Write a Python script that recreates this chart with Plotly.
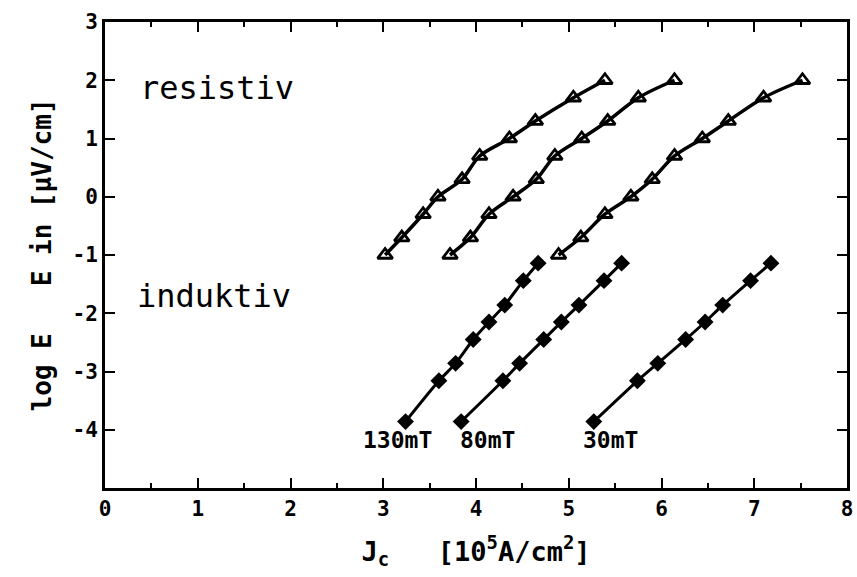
import plotly.graph_objects as go

# Current density J_c (10^5 A/cm^2) per field, resistive branch (open triangles)
jc_res_130mT = [3.02, 3.20, 3.43, 3.59, 3.85, 4.04, 4.36, 4.64, 5.05, 5.39]
jc_res_80mT = [3.72, 3.94, 4.14, 4.40, 4.65, 4.85, 5.14, 5.42, 5.75, 6.14]
jc_res_30mT = [4.89, 5.13, 5.39, 5.67, 5.90, 6.14, 6.44, 6.72, 7.10, 7.52]
logE_res = [-1.0, -0.7, -0.3, 0.0, 0.3, 0.7, 1.0, 1.3, 1.7, 2.0]

# Inductive branch (filled diamonds)
jc_ind_130mT = [3.24, 3.60, 3.78, 3.97, 4.14, 4.31, 4.51, 4.67]
jc_ind_80mT = [3.84, 4.29, 4.47, 4.73, 4.92, 5.11, 5.38, 5.57]
jc_ind_30mT = [5.27, 5.74, 5.96, 6.26, 6.47, 6.66, 6.96, 7.18]
logE_ind = [-3.86, -3.16, -2.86, -2.45, -2.15, -1.86, -1.44, -1.14]

field_labels = ["130mT", "80mT", "30mT"]
field_label_x = [3.15, 4.12, 5.45]
field_label_y = -4.18

x_ticks = [0, 1, 2, 3, 4, 5, 6, 7, 8]
y_ticks = [-4, -3, -2, -1, 0, 1, 2, 3]
y_tick_text = ["-4", "-3", "-2", "-1", "0", "1", "2", "3"]

FONT = "DejaVu Sans Mono"
INK = "black"

fig = go.Figure()

for jc in (jc_res_130mT, jc_res_80mT, jc_res_30mT):
    fig.add_trace(go.Scatter(
        x=jc, y=logE_res, mode="lines+markers",
        line=dict(color=INK, width=3.5, shape="spline", smoothing=0.9),
        marker=dict(symbol="triangle-up-open", size=13, color=INK,
                    line=dict(width=2.8, color=INK)),
        showlegend=False, hoverinfo="skip"))

for jc in (jc_ind_130mT, jc_ind_80mT, jc_ind_30mT):
    fig.add_trace(go.Scatter(
        x=jc, y=logE_ind, mode="lines+markers",
        line=dict(color=INK, width=3, shape="spline", smoothing=0.6),
        marker=dict(symbol="diamond", size=13, color=INK),
        showlegend=False, hoverinfo="skip"))

for lbl, lx in zip(field_labels, field_label_x):
    fig.add_annotation(x=lx, y=field_label_y, text=lbl, showarrow=False,
                       xanchor="center", yanchor="middle",
                       font=dict(family=FONT, size=23, color=INK, weight="bold"))

fig.add_annotation(x=1.21, y=1.87, text="resistiv", showarrow=False,
                   xanchor="center", yanchor="middle",
                   font=dict(family=FONT, size=32, color=INK))
fig.add_annotation(x=1.18, y=-1.70, text="induktiv", showarrow=False,
                   xanchor="center", yanchor="middle",
                   font=dict(family=FONT, size=32, color=INK))

axis_common = dict(
    showline=True, linecolor=INK, linewidth=3, mirror="ticks",
    ticks="inside", tickcolor=INK, tickwidth=2, ticklen=10,
    showgrid=False, zeroline=False,
    tickfont=dict(family=FONT, size=21, color=INK, weight="bold"),
)

fig.update_xaxes(
    range=[0, 8], tickvals=x_ticks,
    minor=dict(dtick=0.5, ticks="inside", ticklen=5, tickwidth=2, tickcolor=INK, showgrid=False),
    title=dict(text="J<sub>c</sub>   [10<sup>5</sup>A/cm<sup>2</sup>]",
               font=dict(family=FONT, size=27, color=INK, weight="bold"), standoff=22),
    **axis_common)

fig.update_yaxes(
    range=[-5, 3], tickvals=y_ticks, ticktext=y_tick_text,
    title=dict(text="log E   E in [µV/cm]",
               font=dict(family=FONT, size=26, color=INK, weight="bold"), standoff=14),
    **axis_common)

fig.update_layout(
    width=857, height=577,
    margin=dict(l=105, r=4, t=22, b=89),
    paper_bgcolor="white", plot_bgcolor="white",
)

fig.write_html("out.html")
